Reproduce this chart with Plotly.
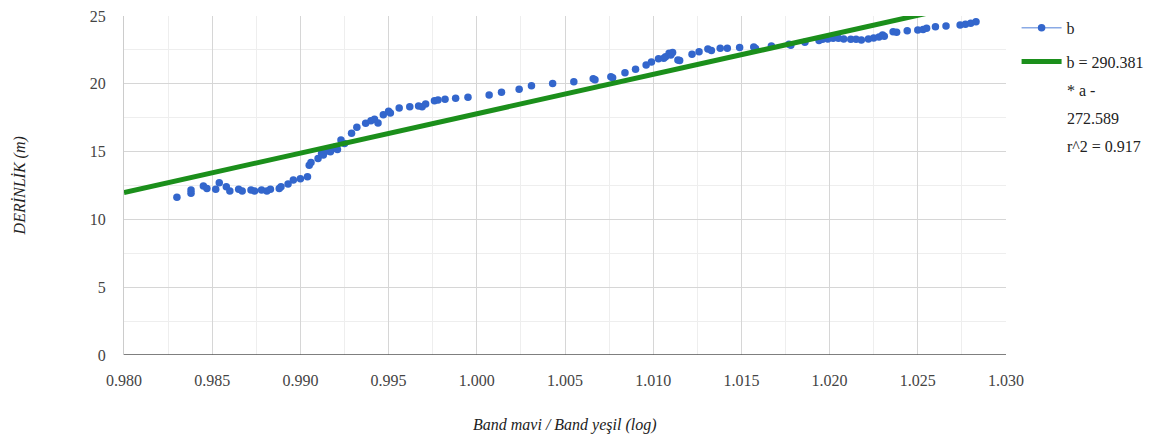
import plotly.graph_objects as go

# Band ratio (log) vs depth samples
band_ratio = [
    0.9830, 0.9838, 0.9838, 0.9845, 0.9847, 0.9852, 0.9854, 0.9858, 0.9860, 0.9865,
    0.9867, 0.9872, 0.9874, 0.9878, 0.9881, 0.9883, 0.9888, 0.9889, 0.9893, 0.9896,
    0.9900, 0.9904, 0.9905, 0.9906, 0.9910, 0.9912, 0.9913, 0.9915, 0.9917, 0.9918,
    0.9920, 0.9921, 0.9923, 0.9925, 0.9929, 0.9932, 0.9937, 0.9940, 0.9942, 0.9944,
    0.9947, 0.9950, 0.9951, 0.9956, 0.9962, 0.9967, 0.9969, 0.9971, 0.9976, 0.9978,
    0.9982, 0.9988, 0.9995, 1.0007, 1.0014, 1.0024, 1.0031, 1.0043, 1.0055, 1.0066,
    1.0067, 1.0076, 1.0077, 1.0084, 1.0090, 1.0096, 1.0099, 1.0103, 1.0106, 1.0107,
    1.0109, 1.0110, 1.0111, 1.0114, 1.0115, 1.0122, 1.0126, 1.0131, 1.0133, 1.0138,
    1.0142, 1.0149, 1.0157, 1.0158, 1.0167, 1.0177, 1.0178, 1.0186, 1.0194, 1.0196,
    1.0199, 1.0202, 1.0205, 1.0208, 1.0212, 1.0215, 1.0218, 1.0222, 1.0225, 1.0228,
    1.0230, 1.0231, 1.0236, 1.0238, 1.0244, 1.0250, 1.0253, 1.0255, 1.0260, 1.0266,
    1.0274, 1.0277, 1.0280, 1.0283,
]
depth_m = [
    11.63, 12.17, 11.92, 12.46, 12.27, 12.22, 12.71, 12.41, 12.09, 12.22,
    12.09, 12.17, 12.09, 12.17, 12.09, 12.22, 12.27, 12.41, 12.61, 12.91,
    13.00, 13.15, 13.99, 14.20, 14.50, 14.87, 14.75, 15.05, 14.99, 15.20,
    15.36, 15.15, 15.86, 15.60, 16.35, 16.79, 17.09, 17.28, 17.38, 17.10,
    17.72, 17.97, 17.85, 18.21, 18.31, 18.36, 18.30, 18.51, 18.75, 18.80,
    18.86, 18.93, 19.00, 19.17, 19.37, 19.59, 19.86, 20.03, 20.16, 20.38,
    20.30, 20.52, 20.45, 20.82, 21.07, 21.39, 21.60, 21.85, 21.88, 22.00,
    22.25, 22.12, 22.30, 21.75, 21.72, 22.17, 22.37, 22.57, 22.45, 22.62,
    22.62, 22.67, 22.71, 22.60, 22.79, 22.91, 22.85, 23.06, 23.20, 23.28,
    23.30, 23.36, 23.36, 23.30, 23.28, 23.28, 23.23, 23.30, 23.38, 23.45,
    23.60, 23.50, 23.84, 23.80, 23.92, 23.97, 24.00, 24.09, 24.21, 24.26,
    24.34, 24.40, 24.46, 24.58,
]

# Linear trendline parameters
slope = 290.381
intercept = -272.589
r_squared = 0.917
x_span = [0.980, 1.030]

x_ticks = [0.980, 0.985, 0.990, 0.995, 1.000, 1.005, 1.010, 1.015, 1.020, 1.025, 1.030]
y_ticks = [0, 5, 10, 15, 20, 25]

BLUE = "#3366CC"
GREEN = "#1B8F1B"
SERIF = "'Liberation Serif', 'Noto Serif', 'DejaVu Serif', FreeSerif, 'Nimbus Roman', serif"

trend_y = [slope * x + intercept for x in x_span]

# trendline label, wrapped the way the legend column shows it
trend_lines = [f"b = {slope:.3f}", "* a -", f"{-intercept:.3f}", f"r^2 = {r_squared:.3f}"]

fig = go.Figure()

fig.add_trace(go.Scatter(
    x=band_ratio, y=depth_m, mode="markers",
    marker=dict(color=BLUE, size=7.5),
    showlegend=False, hoverinfo="x+y",
))
# legend entry for the sample series
fig.add_trace(go.Scatter(
    x=[None], y=[None], mode="lines+markers", name="b",
    line=dict(color="#8AAAE5", width=1.5),
    marker=dict(color=BLUE, size=7.5),
    legendgroup="samples",
))
fig.add_trace(go.Scatter(
    x=x_span, y=trend_y, mode="lines",
    name=trend_lines[0],
    line=dict(color=GREEN, width=5),
    legendgroup="trend",
))

annotations = [
    dict(text="DERİNLİK (m)", xref="paper", yref="paper",
         x=-0.118, y=0.5, textangle=-90, showarrow=False,
         xanchor="center", yanchor="middle",
         font=dict(family=SERIF, size=16, color="#222222", style="italic")),
    dict(text="Band mavi / Band yeşil (log)", xref="paper", yref="paper",
         x=0.5, y=0.0, yshift=-70, showarrow=False,
         xanchor="center", yanchor="middle",
         font=dict(family=SERIF, size=16, color="#222222", style="italic")),
]
# continuation lines of the trendline legend text
for i, line in enumerate(trend_lines[1:], start=1):
    annotations.append(dict(
        text=line, xref="paper", yref="paper",
        x=1.0, xshift=59, y=1.0, yshift=-(46 + 28 * i),
        showarrow=False, xanchor="left", yanchor="middle",
        font=dict(family=SERIF, size=16, color="#222222"),
    ))

fig.update_layout(
    width=1169, height=441,
    margin=dict(l=124, r=163, t=16, b=86, autoexpand=False),
    paper_bgcolor="white", plot_bgcolor="white",
    font=dict(family=SERIF, size=16, color="#444444"),
    legend=dict(
        x=1.012, y=1.015, xanchor="left", yanchor="top",
        font=dict(family=SERIF, size=16, color="#222222"),
        itemwidth=40, valign="middle", tracegroupgap=10,
        bgcolor="rgba(0,0,0,0)",
    ),
    xaxis=dict(
        range=[0.980, 1.030], tickvals=x_ticks,
        ticktext=[f"{v:.3f}" for v in x_ticks],
        showgrid=True, gridcolor="#D6D6D6", gridwidth=1,
        minor=dict(dtick=0.0025, tick0=0.98, showgrid=True, gridcolor="#EEEEEE"),
        zeroline=False, showline=False,
        ticks="", ticklabelstandoff=14,
        tickfont=dict(family=SERIF, size=16, color="#444444"),
    ),
    yaxis=dict(
        range=[0, 25], tickvals=y_ticks,
        showgrid=True, gridcolor="#D6D6D6", gridwidth=1,
        minor=dict(dtick=2.5, tick0=0, showgrid=True, gridcolor="#EEEEEE"),
        zeroline=False, showline=True, linecolor="#CCCCCC", linewidth=1,
        ticks="", ticklabelstandoff=14,
        tickfont=dict(family=SERIF, size=16, color="#444444"),
    ),
    shapes=[
        # baseline along depth 0
        dict(type="line", xref="paper", yref="y", x0=0, x1=1, y0=0, y1=0,
             line=dict(color="#555555", width=1.5)),
    ],
    annotations=annotations,
)

fig.write_html("out.html")
